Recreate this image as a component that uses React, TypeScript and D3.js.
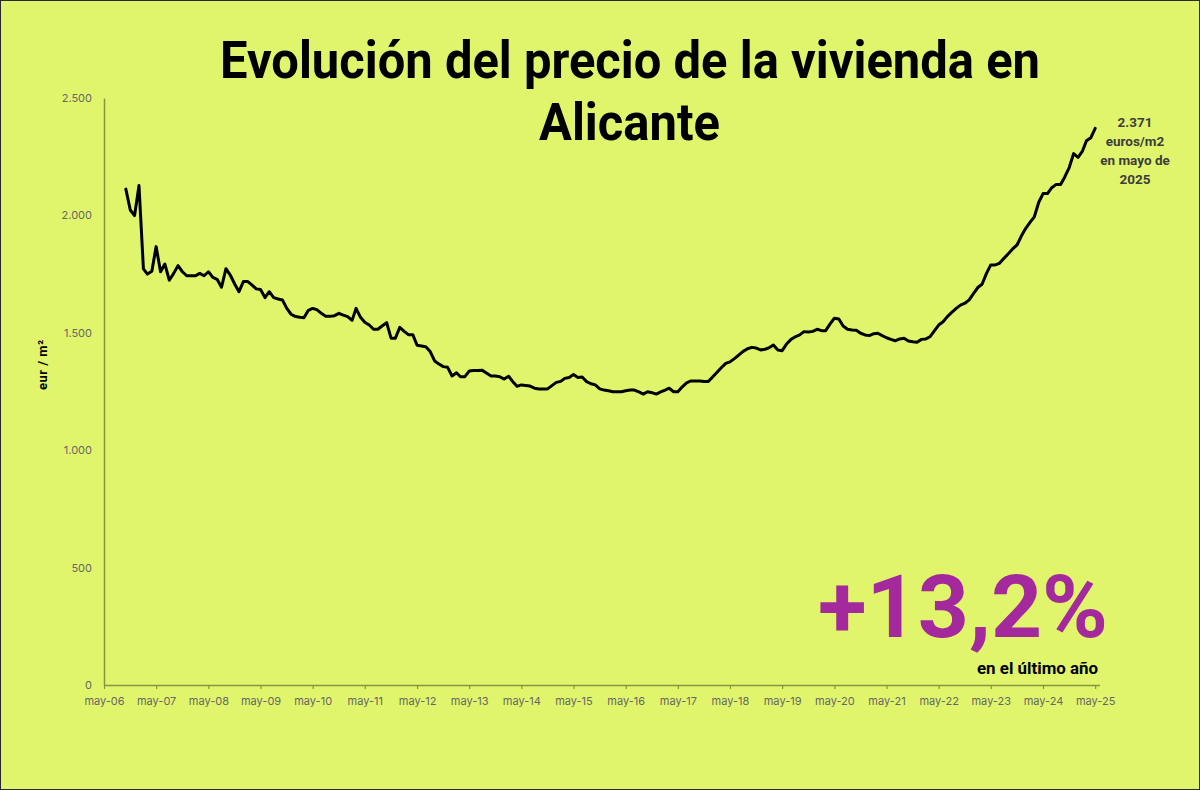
import React, { useRef, useEffect } from 'react';
import * as d3 from 'd3';

// precio medio de la vivienda en Alicante (eur/m2), mensual desde oct-2006
const startMonth = new Date(2006, 9, 1);
const precio = [
  2112, 2023, 1999,
  2127, 1772, 1750, 1762, 1867, 1760, 1793, 1724, 1753, 1786, 1760, 1743,
  1743, 1743, 1753, 1743, 1760, 1736, 1728, 1694, 1773, 1746, 1708, 1675,
  1718, 1718, 1704, 1687, 1684, 1650, 1675, 1650, 1644, 1640, 1604, 1579,
  1569, 1566, 1564, 1596, 1604, 1598, 1583, 1570, 1570, 1573, 1583, 1575,
  1569, 1553, 1604, 1566, 1545, 1533, 1515, 1515, 1530, 1543, 1477, 1477,
  1523, 1506, 1492, 1492, 1447, 1444, 1441, 1420, 1380, 1367, 1356, 1353,
  1316, 1330, 1313, 1313, 1337, 1339, 1339, 1340, 1328, 1316, 1316, 1313,
  1303, 1315, 1293, 1272, 1278, 1276, 1273, 1264, 1261, 1261, 1261, 1275,
  1289, 1293, 1306, 1310, 1322, 1310, 1312, 1292, 1283, 1278, 1261, 1256,
  1253, 1249, 1249, 1249, 1253, 1256, 1256, 1248, 1239, 1249, 1245, 1239,
  1248, 1256, 1264, 1249, 1249, 1270, 1287, 1295, 1295, 1295, 1293, 1293,
  1313, 1333, 1351, 1370, 1376, 1390, 1405, 1421, 1432, 1438, 1435, 1427,
  1430, 1437, 1448, 1427, 1424, 1452, 1471, 1483, 1491, 1505, 1503, 1506,
  1515, 1509, 1509, 1538, 1562, 1559, 1529, 1515, 1512, 1511, 1498, 1491,
  1488, 1496, 1498, 1488, 1479, 1472, 1466, 1474, 1477, 1465, 1462, 1460,
  1472, 1474, 1483, 1508, 1533, 1547, 1569, 1587, 1604, 1618, 1626, 1640,
  1668, 1694, 1707, 1753, 1789, 1789, 1796, 1817, 1837, 1857, 1874, 1912,
  1945, 1971, 1994, 2056, 2093, 2093, 2118, 2132, 2132, 2165, 2205, 2263,
  2247, 2274, 2318, 2331, 2371,
];
const meses = precio.map((_, i) => d3.timeMonth.offset(startMonth, i));

const xTickYears = [2006, 2007, 2008, 2009, 2010, 2011, 2012, 2013, 2014, 2015,
  2016, 2017, 2018, 2019, 2020, 2021, 2022, 2023, 2024, 2025];
const xTickLabels = xTickYears.map(y => `may-${String(y).slice(2)}`);
const yTicks = [0, 500, 1000, 1500, 2000, 2500];
const yTickLabels = ['0', '500', '1.000', '1.500', '2.000', '2.500'];

const titleLines = ['Evolución del precio de la vivienda en', 'Alicante'];
const noteLines = ['2.371', 'euros/m2', 'en mayo de', '2025'];
const bigLabel = '+13,2%';
const bigSub = 'en el último año';

const W = 1200;
const H = 790;
const bg = '#e1f56c';
const axisColor = '#8a9340';
const tickColor = '#666666';
const purple = '#a3299d';

const x = d3.scaleTime()
  .domain([new Date(2006, 4, 1), new Date(2025, 5, 1)])
  .range([104, 1099.6]);
const y = d3.scaleLinear().domain([0, 2500]).range([685, 98]);

const line = d3.line<number>()
  .x((_, i) => x(meses[i]))
  .y(d => y(d));

const App: React.FC = () => {
  const xRef = useRef<SVGGElement>(null);
  const yRef = useRef<SVGGElement>(null);

  useEffect(() => {
    if (!xRef.current || !yRef.current) return;
    const tickDates = xTickYears.map(yr => new Date(yr, 4, 1));

    const gx = d3.select(xRef.current);
    gx.selectAll('*').remove();
    gx.call(
      d3.axisBottom(x)
        .tickValues(tickDates)
        .tickFormat((_, i) => xTickLabels[i])
        .tickSizeInner(4)
        .tickSizeOuter(0)
        .tickPadding(8)
    );
    gx.attr('color', axisColor);
    gx.select('.domain').attr('stroke-width', 1.5);
    gx.selectAll('.tick line').attr('stroke-width', 1.2);
    gx.selectAll('.tick text')
      .attr('fill', tickColor)
      .style('font-family', 'Inter, sans-serif')
      .style('font-size', '11px');

    const gy = d3.select(yRef.current);
    gy.selectAll('*').remove();
    gy.call(
      d3.axisLeft(y)
        .tickValues(yTicks)
        .tickFormat((_, i) => yTickLabels[i])
        .tickSize(0)
        .tickPadding(12)
    );
    gy.attr('color', axisColor);
    gy.select('.domain').attr('stroke-width', 1.5);
    gy.selectAll('.tick text')
      .attr('fill', tickColor)
      .style('font-family', 'Inter, sans-serif')
      .style('font-size', '11px');
  }, []);

  return (
    <svg width={W} height={H} style={{ position: 'absolute', left: 0, top: 0 }}>
      <rect x={0.5} y={0.5} width={W - 1} height={H - 1} fill={bg} stroke="#2a2a2a" strokeWidth={1} />

      <g fontFamily="Roboto, sans-serif" fontWeight={700} fill="#000">
        <text x={220} y={78} fontSize={52} textLength={820} lengthAdjust="spacingAndGlyphs">{titleLines[0]}</text>
        <text x={539} y={140} fontSize={52} textLength={181} lengthAdjust="spacingAndGlyphs">{titleLines[1]}</text>
      </g>

      <g ref={yRef} transform={`translate(${x.range()[0]},0)`} />
      <g ref={xRef} transform={`translate(0,${y(0)})`} />

      <text
        transform="translate(47,365) rotate(-90)"
        textAnchor="middle"
        fontFamily="Roboto, sans-serif"
        fontWeight={700}
        fontSize={13}
        fill="#000"
        textLength={50}
        lengthAdjust="spacing"
      >
        eur / m²
      </text>

      <path
        d={line(precio) || ''}
        fill="none"
        stroke="#000"
        strokeWidth={3}
        strokeLinejoin="round"
        strokeLinecap="round"
      />

      <g fontFamily="Roboto, sans-serif" fontWeight={700} fontSize={13.5} fill="#3d3d3d" textAnchor="middle">
        {noteLines.map((t, i) => (
          <text key={t} x={1135} y={127 + i * 19}>{t}</text>
        ))}
      </g>

      <text
        x={818}
        y={637}
        fontFamily="Roboto, sans-serif"
        fontWeight={700}
        fontSize={88}
        fill={purple}
        textLength={290}
        lengthAdjust="spacingAndGlyphs"
      >
        {bigLabel}
      </text>
      <text
        x={977}
        y={674}
        fontFamily="Roboto, sans-serif"
        fontWeight={700}
        fontSize={16}
        fill="#000"
        textLength={121}
        lengthAdjust="spacingAndGlyphs"
      >
        {bigSub}
      </text>
    </svg>
  );
};

export default App;
